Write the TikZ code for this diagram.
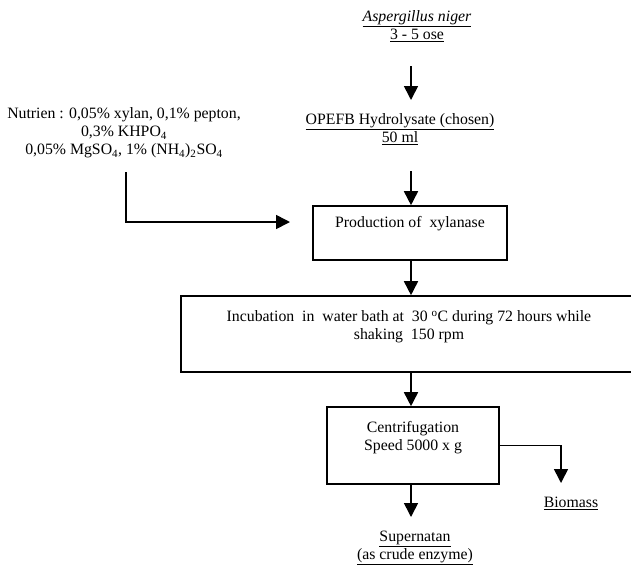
\documentclass[tikz,border=0pt]{standalone}
\usepackage{fontspec}
\setmainfont{Liberation Serif}
\usetikzlibrary{positioning, arrows.meta, calc}
\tikzset{
flow/.style={-{Triangle[width=14pt,length=14pt]}, line width=1.6pt}, % the thick arrows
stage/.style={draw, line width=1.6pt, inner sep=0pt}, % the process boxes
txt/.style={font=\fontsize{15.8}{18}\selectfont, align=center, inner sep=0pt}, % all texts
}

\begin{document}
\begin{tikzpicture}[x=1pt, y=-1pt]
        \useasboundingbox (0,0) rectangle (631,566);

        % boxes
        \node[stage, minimum width=194pt, minimum height=54pt] (prod) at (410,233) {};
        \node[stage, minimum width=456pt, minimum height=76pt] (incub) at (409,334) {};
        \node[stage, minimum width=172pt, minimum height=77pt] (centri) at (413,445.5) {};

        % texts
        \node[txt] (asp) at (417,26) {\underline{\textit{Aspergillus niger}}\\\underline{3 - 5 ose}};
        \node[txt] (opefb) at (400,129) {\underline{OPEFB Hydrolysate (chosen)}\\\underline{50 ml}};
        \node[txt] (nut) at (124,133) {Nutrien : 0,05\% xylan, 0,1\% pepton,\\0,3\% KHPO\textsubscript{4}\\
            0,05\% MgSO\textsubscript{4}, 1\% (NH\textsubscript{4})\textsubscript{2}SO\textsubscript{4}};
        \node[txt] (prodtxt) at (410,224) {Production of\ \ xylanase};
        \node[txt] (incubtxt) at (409,327) {Incubation\ \ in\ \ water bath at\ \ 30 \textsuperscript{o}C during 72 hours while\\shaking\ \ 150 rpm};
        \node[txt] (centritxt) at (413,438) {Centrifugation\\Speed 5000 x g};
        \node[txt] (sup) at (415,548) {\underline{Supernatan}\\\underline{(as crude enzyme)}};
        \node[txt] (bio) at (571,503) {\underline{Biomass}};

        % free ends of the arrows
        \coordinate (asp-out) at (411,66);
        \coordinate (opefb-in) at (411,100);
        \coordinate (opefb-out) at (411,171);
        \coordinate (nut-out) at (126,172);
        \coordinate (prod-in) at (290,222);
        \coordinate (sup-in) at (411,517);
        \coordinate (bio-in) at (561,483);

        \draw[flow] (asp-out) -- (opefb-in);
        \draw[flow] (opefb-out) -- (opefb-out |- prod.north);
        \draw[flow] (nut-out) |- (prod-in);
        \draw[flow] (opefb-out |- prod.south) -- (opefb-out |- incub.north);
        \draw[flow] (opefb-out |- incub.south) -- (opefb-out |- centri.north);
        \draw[flow] (opefb-out |- centri.south) -- (sup-in);
        \draw[flow] (centri.east) -| (bio-in);
\end{tikzpicture}
\end{document}
